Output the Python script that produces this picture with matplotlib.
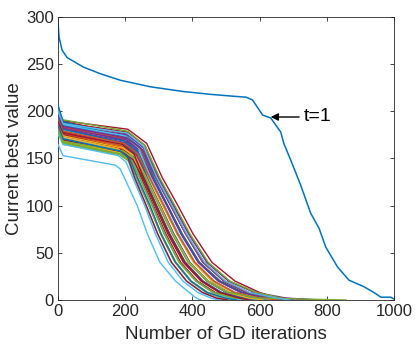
import matplotlib
matplotlib.use("Agg")
import matplotlib.pyplot as plt

plt.rcParams['font.family'] = ['Liberation Sans', 'DejaVu Sans']

# MATLAB default colour order
colors = ['#0072BD', '#D95319', '#EDB120', '#7E2F8E', '#77AC30', '#4DBEEE', '#A2142F']

# Main curve (t=1)
main_x = [0, 3, 12, 27, 75, 125, 185, 275, 373, 454, 522, 560, 579, 609, 633,
          663, 672, 693, 713, 722, 752, 777, 797, 832, 866, 911, 940, 961, 990, 1000]
main_y = [295, 279, 265, 257, 247, 240, 233, 226, 221, 218, 216, 215, 212, 196, 193,
          178, 166, 148, 130, 122, 92, 76, 56, 35, 21, 14, 8, 3, 3, 1]

# Bundle of other runs: values at x=0, x=15, at the end of the plateau, at the knee,
# and the iteration at which each run crosses the listed levels
early_x = 15
start_vals = [196,190,198,185,183,200,203, 192,186,195,178,165,199,188, 194,189,193,181,184,201,197,
              187,191,198,180,176,190,196, 195,184,190,202,192,183,207, 188,182,194,179,197,185,195,
              191,187,196,181,200,189,186]
early_vals = [182,178,185,170,172,188,186, 179,174,181,166,153,190,176, 183,175,180,169,171,189,184,
              176,178,186,165,165,175,185, 183,172,178,191,180,170,189, 177,168,182,167,186,174,181,
              179,174,184,168,187,177,171]
plateau_vals = [166,163,171,158,160,178,170, 165,160,168,155,143,181,164, 172,162,167,156,158,176,169,
                161,164,175,154,153,161,174, 171,159,166,179,166,157,173, 163,156,170,155,174,162,167,
                166,161,172,158,177,165,158]
plateau_x = [195,191,202,186,182,207,193, 199,188,204,184,170,208,190, 201,194,197,187,184,205,197,
             190,196,206,183,180,188,202, 204,190,194,207,186,189,195, 193,185,201,186,199,181,191,
             197,193,204,193,205,191,184]
knee_vals = [155,153,159,150,151,164,158, 155,151,157,148,139,166,154, 159,152,156,148,150,162,157,
             152,154,161,147,146,152,161, 159,150,155,164,155,149,160, 153,148,158,148,161,152,156,
             155,152,159,150,163,155,150]
knee_x = [232,226,245,218,206,258,230, 239,220,251,212,185,264,225, 246,231,238,217,211,253,239,
          224,237,257,211,203,220,248, 252,225,233,259,217,223,234, 230,214,244,217,240,207,227,
          238,231,252,230,254,226,213]
levels = [130, 100, 70, 40, 20, 8, 2, 0]
x_at_130 = [263,255,281,244,226,300,260, 272,246,290,235,197,310,254, 283,262,271,242,233,293,273,
            252,270,298,234,222,247,285, 291,253,264,302,243,251,265, 261,237,280,243,275,228,256,
            272,262,292,260,294,254,236]
x_at_100 = [302,293,325,282,262,345,304, 313,283,335,272,236,357,291, 326,302,314,280,270,336,316,
            292,312,344,271,258,284,327, 337,290,305,348,281,289,303, 301,273,324,281,317,263,294,
            315,303,338,300,339,292,274]
x_at_70 = [343,330,367,318,296,390,345, 355,320,380,306,266,402,332, 369,342,356,316,307,380,357,
           330,354,389,305,290,321,370, 381,329,344,393,318,327,343, 341,308,366,317,359,297,333,
           356,342,382,340,383,331,307]
x_at_40 = [390,376,418,362,336,443,392, 405,364,430,350,303,458,378, 420,389,404,360,349,433,406,
           375,403,444,348,328,365,421, 432,374,391,447,361,373,392, 388,351,417,361,408,338,379,
           407,390,434,387,436,377,350]
x_at_20 = [447,428,478,414,382,508,443, 462,412,495,396,350,527,430, 482,446,460,410,394,493,463,
           430,458,510,394,372,415,483, 496,427,446,512,411,426,448, 444,397,477,412,465,383,432,
           464,447,497,444,498,429,396]
x_at_8 = [505,482,545,465,428,585,500, 525,462,565,445,390,600,485, 550,505,522,460,440,560,525,
          484,518,588,442,416,468,550, 565,480,505,590,462,480,508, 503,446,543,463,528,430,487,
          526,506,568,505,570,483,444]
x_at_2 = [560,540,610,520,470,660,560, 590,515,660,495,412,655,545, 620,570,585,515,485,630,590,
          545,580,680,490,455,525,620, 640,540,570,665,515,545,575, 565,495,615,525,595,472,550,
          600,568,645,600,650,540,498]
x_end = [590,575,660,560,500,690,600, 640,545,775,530,425,680,580, 680,610,630,555,515,680,640,
         590,620,780,530,480,560,670, 680,575,620,700,550,600,620, 600,525,680,580,650,505,590,
         660,610,700,857,690,570,530]

x_ticks = [0, 200, 400, 600, 800, 1000]
y_ticks = [0, 50, 100, 150, 200, 250, 300]

fig = plt.figure(figsize=(4.15, 3.5), dpi=100)
ax = fig.add_axes([58/415, 50/350, 336/415, 283/350])

ax.plot(main_x, main_y, color=colors[0], lw=1.1, zorder=2)

for k in range(len(start_vals)):
    xs = [0, early_x, plateau_x[k], knee_x[k], x_at_130[k], x_at_100[k], x_at_70[k],
          x_at_40[k], x_at_20[k], x_at_8[k], x_at_2[k], x_end[k]]
    ys = [start_vals[k], early_vals[k], plateau_vals[k], knee_vals[k]] + levels
    ax.plot(xs, ys, color=colors[(k + 1) % 7], lw=1.0, zorder=3)

ax.annotate('t=1', xy=(633, 194), xytext=(730, 194), fontsize=14, color='black',
            va='center', ha='left',
            arrowprops=dict(arrowstyle='-|>', color='black', lw=1.0,
                            shrinkA=1, shrinkB=0, mutation_scale=11))

ax.set_xlim(0, 1000)
ax.set_ylim(0, 300)
ax.set_xticks(x_ticks)
ax.set_yticks(y_ticks)
ax.tick_params(direction='in', length=3, width=0.6, colors='#262626', labelsize=12,
               top=True, right=True, pad=3)
for s in ax.spines.values():
    s.set_color('#262626')
    s.set_linewidth(0.6)
ax.set_xlabel('Number of GD iterations', fontsize=13.5, color='#262626', labelpad=5)
ax.set_ylabel('Current best value', fontsize=13.5, color='#262626', labelpad=2)

fig.savefig('out.png', dpi=100)
